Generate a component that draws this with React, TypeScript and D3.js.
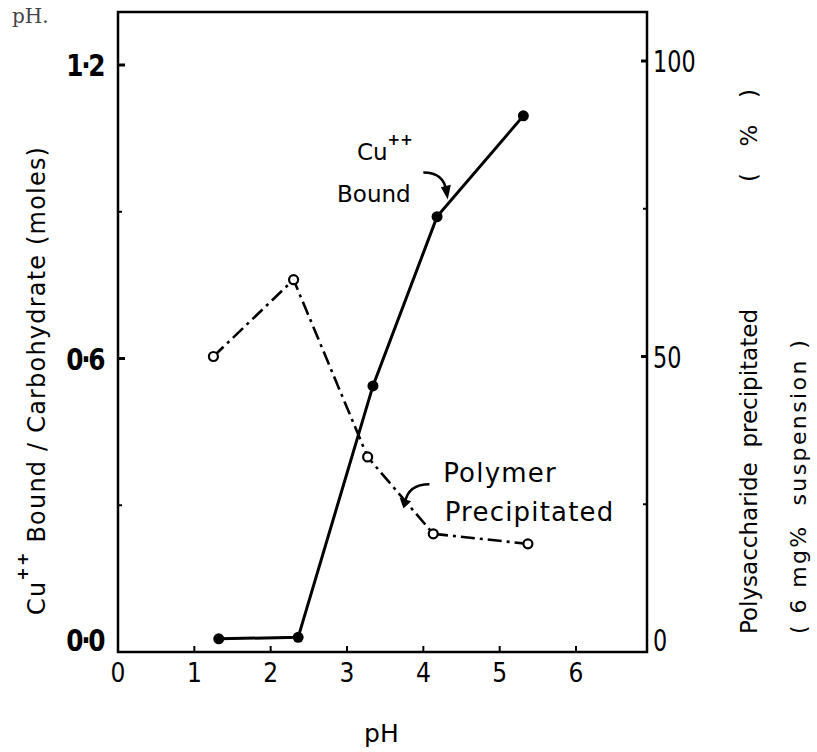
import React, { useEffect, useRef } from 'react';
import * as d3 from 'd3';

// pH values and readings taken from the figure
const cuPH = [1.32, 2.36, 3.34, 4.18, 5.31];
const cuBound = [0.027, 0.03, 0.544, 0.89, 1.096];
const polyPH = [1.25, 2.3, 3.27, 4.13, 5.37];
const polyPct = [50, 63, 33, 20, 18.3];
const xTicks = [0, 1, 2, 3, 4, 5, 6];
const leftTicks = [0, 0.6, 1.2];
const leftMinor = [0.3, 0.9];
const leftTickLabels = ['0·0', '0·6', '1·2'];
const rightTicks = [0, 50, 100];
const rightMinor = [25, 75];

const FONT = "'DejaVu Sans', sans-serif";

function App() {
  const svgRef = useRef<SVGSVGElement>(null);

  useEffect(() => {
    const svg = d3.select(svgRef.current);
    svg.selectAll('*').remove();

    const left = 118, right = 647, top = 12, bottom = 652;

    const x = d3.scaleLinear().domain([0, 6.93]).range([left, right]);
    const yL = d3.scaleLinear().domain([0, 1.2]).range([bottom, 65]);
    const yR = d3.scaleLinear().domain([0, 100]).range([bottom, 61]);

    // frame
    svg.append('rect')
      .attr('x', left).attr('y', top)
      .attr('width', right - left).attr('height', bottom - top)
      .attr('fill', 'none').attr('stroke', '#000').attr('stroke-width', 2.5);

    // bottom ticks (inward)
    svg.selectAll('.xt').data(xTicks.slice(1)).enter().append('line')
      .attr('x1', d => x(d)).attr('x2', d => x(d))
      .attr('y1', bottom).attr('y2', bottom - 6)
      .attr('stroke', '#000').attr('stroke-width', 2);
    svg.selectAll('.xl').data(xTicks).enter().append('text')
      .attr('transform', d => `translate(${x(d)},${bottom + 30}) scale(0.9,1)`)
      .attr('text-anchor', 'middle')
      .attr('font-family', FONT).attr('font-size', 26)
      .text(d => d);

    // left ticks
    svg.selectAll('.lt').data(leftTicks.slice(1)).enter().append('line')
      .attr('x1', left).attr('x2', left + 7)
      .attr('y1', d => yL(d)).attr('y2', d => yL(d))
      .attr('stroke', '#000').attr('stroke-width', 3);
    svg.selectAll('.lm').data(leftMinor).enter().append('line')
      .attr('x1', left).attr('x2', left + 4)
      .attr('y1', d => yL(d)).attr('y2', d => yL(d))
      .attr('stroke', '#000').attr('stroke-width', 2);
    svg.selectAll('.ll').data(leftTicks).enter().append('text')
      .attr('transform', d => `translate(${left - 15},${yL(d) + 11 - (d === 0 ? 12 : 0)}) scale(0.8,1)`)
      .attr('text-anchor', 'end')
      .attr('font-family', FONT).attr('font-size', 31).attr('font-weight', 'bold')
      .attr('letter-spacing', -3)
      .text((d, i) => leftTickLabels[i]);

    // right ticks
    svg.selectAll('.rt').data(rightTicks.slice(1)).enter().append('line')
      .attr('x1', right).attr('x2', right - 6)
      .attr('y1', d => yR(d)).attr('y2', d => yR(d))
      .attr('stroke', '#000').attr('stroke-width', 3);
    svg.selectAll('.rm').data(rightMinor).enter().append('line')
      .attr('x1', right).attr('x2', right - 4)
      .attr('y1', d => yR(d)).attr('y2', d => yR(d))
      .attr('stroke', '#000').attr('stroke-width', 2);
    svg.selectAll('.rl').data(rightTicks).enter().append('text')
      .attr('transform', d => `translate(${right + 6},${yR(d) + 11 - (d === 0 ? 12 : 0)}) scale(0.72,1)`)
      .attr('font-family', FONT).attr('font-size', 31)
      .text(d => d);

    // Polymer precipitated (dash-dot, open circles)
    const poly = polyPH.map((p, i) => [x(p), yR(polyPct[i])] as [number, number]);
    svg.append('path')
      .attr('d', d3.line()(poly))
      .attr('fill', 'none').attr('stroke', '#000').attr('stroke-width', 2.6)
      .attr('stroke-dasharray', '14,5,3,5');
    svg.selectAll('.pc').data(poly).enter().append('circle')
      .attr('cx', d => d[0]).attr('cy', d => d[1]).attr('r', 4.5)
      .attr('fill', '#fff').attr('stroke', '#000').attr('stroke-width', 2.2);

    // Cu++ bound (solid, filled circles)
    const cu = cuPH.map((p, i) => [x(p), yL(cuBound[i])] as [number, number]);
    svg.append('path')
      .attr('d', d3.line()(cu))
      .attr('fill', 'none').attr('stroke', '#000').attr('stroke-width', 3);
    svg.selectAll('.cc').data(cu).enter().append('circle')
      .attr('cx', d => d[0]).attr('cy', d => d[1]).attr('r', 5.5)
      .attr('fill', '#000');

    // annotations
    const cuLab = svg.append('text')
      .attr('font-family', FONT).attr('font-size', 23);
    cuLab.append('tspan').attr('x', x(3.13)).attr('y', yL(1.005)).text('Cu');
    cuLab.append('tspan').attr('dy', -15).attr('font-size', 15).attr('font-weight', 'bold').text('++');
    svg.append('text')
      .attr('x', x(2.87)).attr('y', yL(0.92))
      .attr('font-family', FONT).attr('font-size', 23)
      .text('Bound');
    svg.append('path')
      .attr('d', `M${x(4.0)},${yL(0.98)} Q${x(4.28)},${yL(0.98)} ${x(4.3)},${yL(0.94)}`)
      .attr('fill', 'none').attr('stroke', '#000').attr('stroke-width', 2.5);
    svg.append('path')
      .attr('d', `M${x(4.23)},${yL(0.95)} L${x(4.32)},${yL(0.925)} L${x(4.36)},${yL(0.955)} Z`)
      .attr('fill', '#000');

    svg.append('text')
      .attr('x', x(4.26)).attr('y', yR(28.7))
      .attr('font-family', FONT).attr('font-size', 26).attr('letter-spacing', 1.2)
      .text('Polymer');
    svg.append('text')
      .attr('x', x(4.28)).attr('y', yR(22.1))
      .attr('font-family', FONT).attr('font-size', 26).attr('letter-spacing', 1.2)
      .text('Precipitated');
    svg.append('path')
      .attr('d', `M${x(4.08)},${yR(28.4)} Q${x(3.8)},${yR(28.4)} ${x(3.76)},${yR(25.3)}`)
      .attr('fill', 'none').attr('stroke', '#000').attr('stroke-width', 2.5);
    svg.append('path')
      .attr('d', `M${x(3.69)},${yR(26.1)} L${x(3.74)},${yR(24.3)} L${x(3.84)},${yR(25.5)} Z`)
      .attr('fill', '#000');

    // axis titles
    svg.append('text')
      .attr('x', x(3.45)).attr('y', 742)
      .attr('text-anchor', 'middle')
      .attr('font-family', FONT).attr('font-size', 25)
      .text('pH');

    const ly = svg.append('text')
      .attr('transform', 'translate(45,615) rotate(-90)')
      .attr('font-family', FONT).attr('font-size', 24).attr('letter-spacing', 1.2);
    ly.append('tspan').text('Cu');
    ly.append('tspan').attr('dy', -17).attr('font-size', 16).attr('font-weight', 'bold').text('++');
    ly.append('tspan').attr('dy', 17).text(' Bound / Carbohydrate (moles)');

    svg.append('text')
      .attr('transform', 'translate(757,634) rotate(-90)')
      .attr('font-family', FONT).attr('font-size', 23)
      .attr('xml:space', 'preserve')
      .text('Polysaccharide  precipitated');
    svg.append('text')
      .attr('transform', 'translate(757,182) rotate(-90)')
      .attr('font-family', FONT).attr('font-size', 23).attr('letter-spacing', 4)
      .attr('xml:space', 'preserve')
      .text('(  %  )');
    svg.append('text')
      .attr('transform', 'translate(806,634) rotate(-90)')
      .attr('font-family', FONT).attr('font-size', 22).attr('letter-spacing', 2.4)
      .attr('xml:space', 'preserve')
      .text('( 6 mg%  suspension )');

    // scanned text fragment at top-left
    svg.append('text')
      .attr('x', 12).attr('y', 23)
      .attr('font-family', "'DejaVu Serif', serif").attr('font-size', 20)
      .attr('fill', '#444')
      .text('pH.');
  }, []);

  return (
    <svg ref={svgRef} width={817} height={752}
      style={{ position: 'absolute', left: 0, top: 0, background: '#fff' }} />
  );
}

export default App;
